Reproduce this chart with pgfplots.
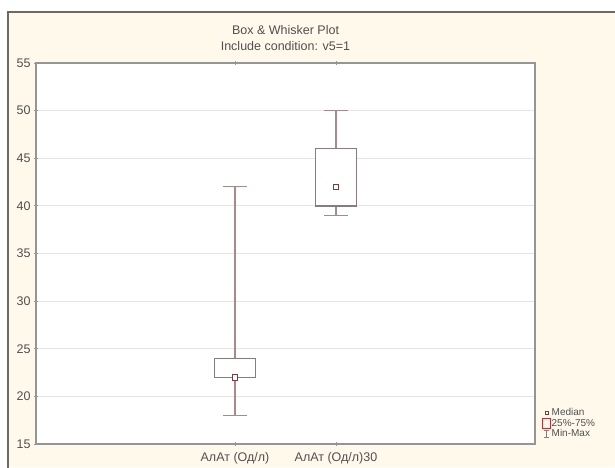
\documentclass[border=0pt]{standalone}
\usepackage{fontspec}
\setmainfont{Liberation Sans}
\usepackage{pgfplots}
\pgfplotsset{compat=1.18}
\definecolor{cream}{HTML}{FFF9EC}
\definecolor{framecol}{HTML}{6E6A63}
\definecolor{boxcol}{HTML}{8A7C7C}
\definecolor{whiskcol}{HTML}{A88A8A}
\definecolor{medcol}{HTML}{7A3C3C}
\definecolor{legred}{HTML}{C03030}
\definecolor{txt}{HTML}{505050}
\definecolor{gridc}{HTML}{E4E4E4}
\definecolor{axc}{HTML}{959595}
\begin{document}
\begin{tikzpicture}[x=1pt,y=1pt]
\path[use as bounding box] (0,0) rectangle (615,467);
\fill[white] (0,0) rectangle (615,467);
\fill[cream] (8,0) rectangle (615,455);
\draw[framecol, line width=1.5pt] (8,-1) -- (8,455) -- (616,455);
\begin{axis}[
  at={(36pt,23pt)}, anchor=south west,
  scale only axis, width=499pt, height=381pt,
  axis background/.style={fill=white},
  xmin=-0.97, xmax=3.97, ymin=15, ymax=55,
  xtick={1,2}, xticklabels={АлАт (Од/л), АлАт (Од/л)30},
  ytick={15,20,...,55},
  ymajorgrids, grid style={gridc, line width=0.8pt},
  axis line style={axc, line width=1.3pt},
  tick style={axc, line width=0.8pt},
  tick align=center, major tick length=4pt,
  xtick pos=both, ytick pos=left,
  /pgf/number format/assume math mode=true,
  ticklabel style={font=\fontsize{12.5}{15}\selectfont, text=txt},
  xticklabel style={yshift=-3pt},
  title={Box \& Whisker Plot\\Include condition: v5=1},
  title style={align=center, font=\fontsize{12.5}{16}\selectfont, text=txt, inner sep=0pt, yshift=6pt},
  legend cell align=left,
  legend style={at={(rel axis cs:1,0)}, anchor=south west, xshift=4pt, yshift=3pt,
     draw=none, fill=none, font=\fontsize{10}{11}\selectfont, text=txt,
     nodes={inner sep=0.8pt}, row sep=0pt},
  unbounded coords=jump,
]
% whiskers (Min-Max)
\addplot[whiskcol, line width=1.3pt, forget plot] coordinates {
  (1,24) (1,42) (nan,nan) (0.885,42) (1.115,42) (nan,nan)
  (1,22) (1,18) (nan,nan) (0.885,18) (1.115,18)};
\addplot[whiskcol, line width=1.3pt, forget plot] coordinates {
  (2,46) (2,50) (nan,nan) (1.885,50) (2.115,50) (nan,nan)
  (2,40) (2,39) (nan,nan) (1.885,39) (2.115,39)};
% boxes (25%-75%)
\addplot[boxcol, line width=1.3pt, fill=white, forget plot] coordinates {
  (0.8,22) (1.2,22) (1.2,24) (0.8,24) (0.8,22)} -- cycle;
\addplot[boxcol, line width=1.3pt, fill=white, forget plot] coordinates {
  (1.8,40) (2.2,40) (2.2,46) (1.8,46) (1.8,40)} -- cycle;
% medians
\addplot[only marks, mark=square*, mark size=2.7pt,
   mark options={fill=white, draw=medcol, line width=1pt}, forget plot]
   coordinates {(1,22) (2,42)};
\addlegendimage{legend image code/.code={\draw[medcol, line width=0.7pt] (0.09cm,-0.055cm) rectangle (0.2cm,0.055cm);}}
\addlegendentry{Median}
\addlegendimage{legend image code/.code={\draw[legred, line width=0.7pt] (0cm,-0.17cm) rectangle (0.28cm,0.17cm);}}
\addlegendentry{25\%-75\%}
\addlegendimage{legend image code/.code={\draw[boxcol, line width=0.7pt] (0.14cm,-0.13cm)--(0.14cm,0.13cm) (0.04cm,0.13cm)--(0.24cm,0.13cm) (0.04cm,-0.13cm)--(0.24cm,-0.13cm);}}
\addlegendentry{Min-Max}
\end{axis}
\end{tikzpicture}
\end{document}
